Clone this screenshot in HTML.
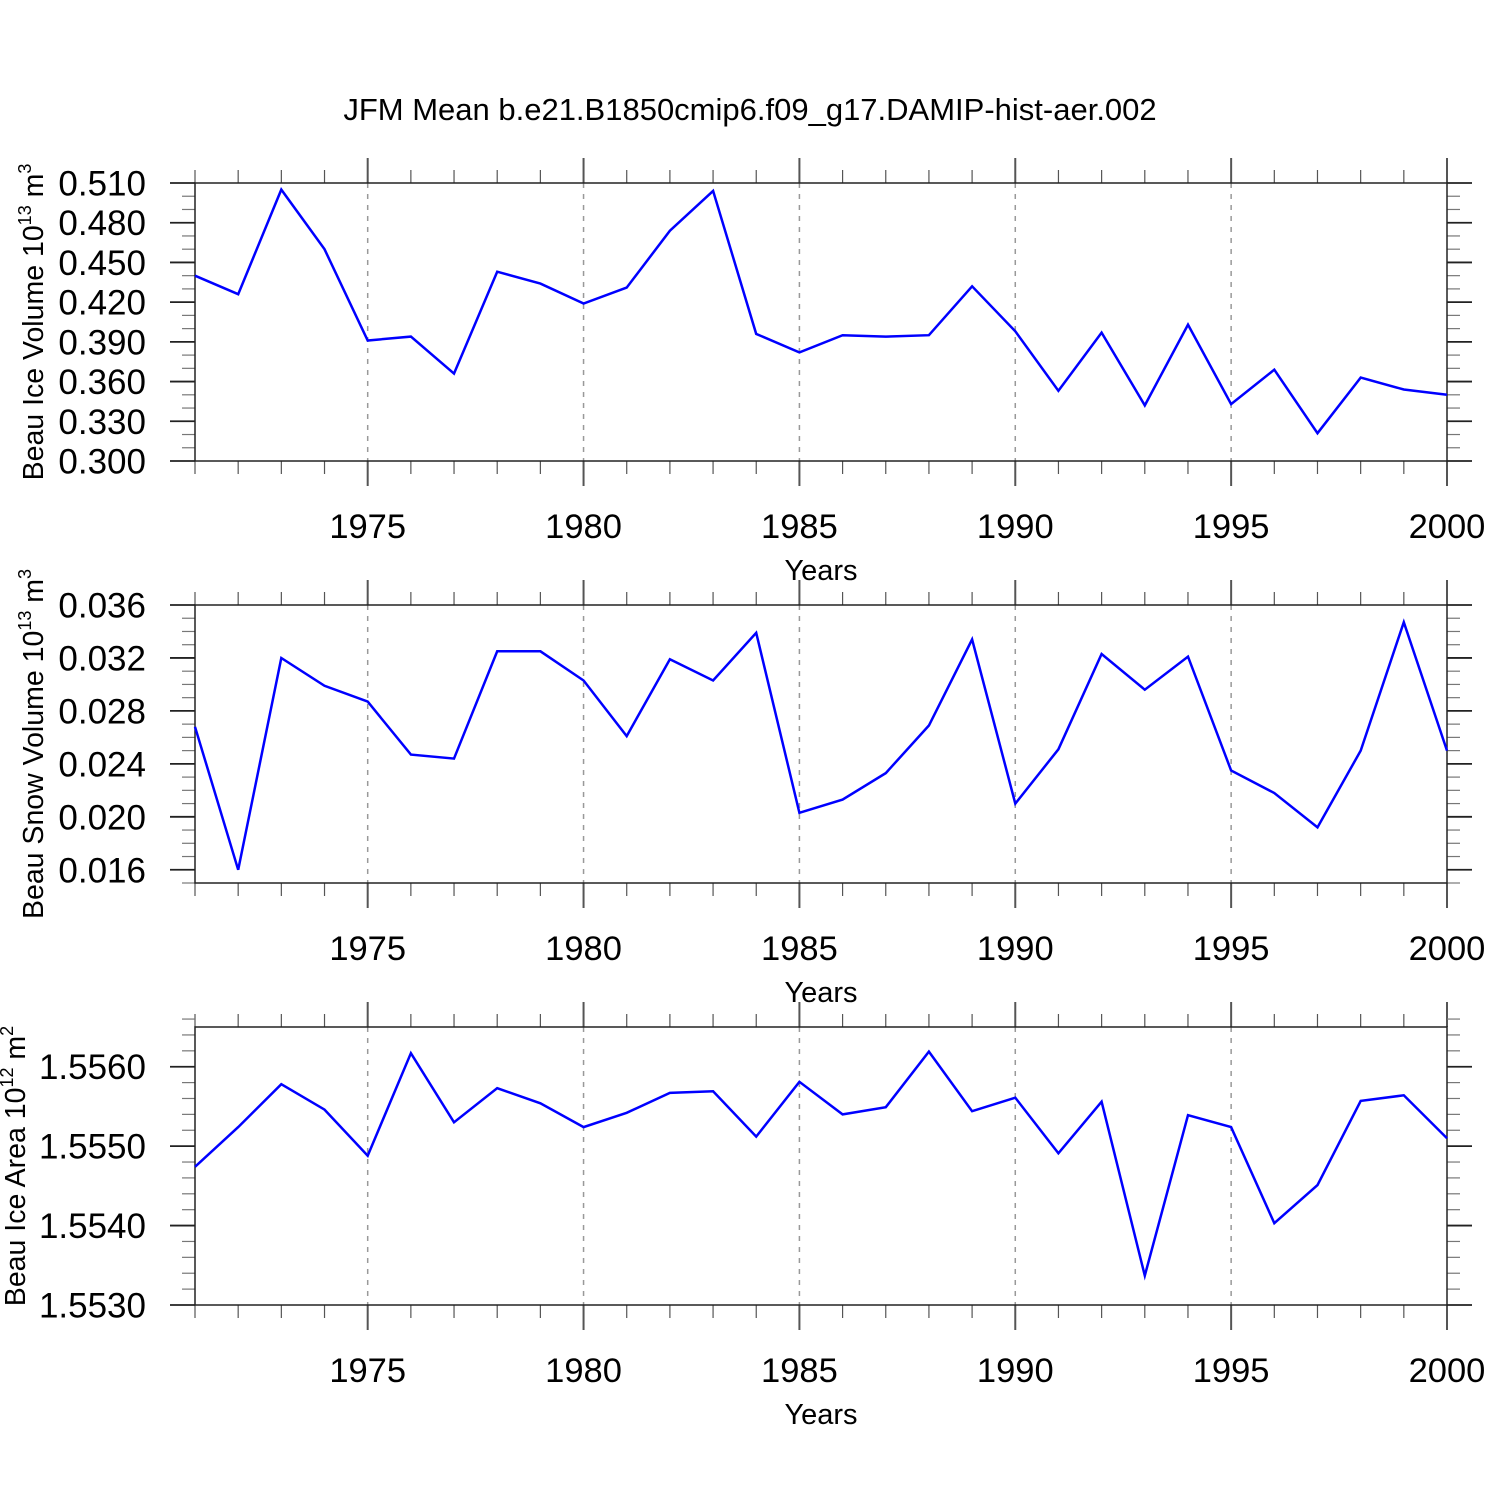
<!DOCTYPE html>
<html><head><meta charset="utf-8"><style>
body{margin:0;background:#fff}
svg{display:block;font-family:"Liberation Sans",sans-serif}
</style></head><body>
<svg id="chart" width="1500" height="1500" viewBox="0 0 1500 1500" xmlns="http://www.w3.org/2000/svg">
<rect width="1500" height="1500" fill="#fff"/>
<text x="750" y="120" font-size="31" text-anchor="middle">JFM Mean b.e21.B1850cmip6.f09_g17.DAMIP-hist-aer.002</text>
</svg>
<script>
const years = [1971,1972,1973,1974,1975,1976,1977,1978,1979,1980,1981,1982,1983,1984,1985,1986,1987,1988,1989,1990,1991,1992,1993,1994,1995,1996,1997,1998,1999,2000];
const iceVolume = [0.440,0.426,0.505,0.460,0.391,0.394,0.366,0.443,0.434,0.419,0.431,0.474,0.504,0.396,0.382,0.395,0.394,0.395,0.432,0.398,0.353,0.397,0.342,0.403,0.343,0.369,0.321,0.363,0.354,0.350];
const snowVolume = [0.0268,0.0160,0.0320,0.0299,0.0287,0.0247,0.0244,0.0325,0.0325,0.0303,0.0261,0.0319,0.0303,0.0339,0.0203,0.0213,0.0233,0.0269,0.0334,0.0210,0.0251,0.0323,0.0296,0.0321,0.0235,0.0218,0.0192,0.0250,0.0347,0.0250];
const iceArea = [1.55474,1.55524,1.55578,1.55546,1.55488,1.55617,1.55530,1.55573,1.55554,1.55524,1.55542,1.55567,1.55569,1.55512,1.55581,1.55540,1.55549,1.55619,1.55544,1.55561,1.55491,1.55556,1.55337,1.55539,1.55524,1.55403,1.55451,1.55557,1.55564,1.55510];
const xTickLabels = [1975,1980,1985,1990,1995,2000];
const iceVolumeTicks = [0.300,0.330,0.360,0.390,0.420,0.450,0.480,0.510];
const snowVolumeTicks = [0.016,0.020,0.024,0.028,0.032,0.036];
const iceAreaTicks = [1.5530,1.5540,1.5550,1.5560];

const NS="http://www.w3.org/2000/svg";
const svg=document.getElementById('chart');
function mk(tag,attrs,parent){const e=document.createElementNS(NS,tag);for(const k in attrs)e.setAttribute(k,attrs[k]);(parent||svg).appendChild(e);return e;}

const X0=195,X1=1447,H=278;
const xs=y=>X0+(y-1971)/(2000-1971)*(X1-X0);

const panels=[
 {name:'ice-volume',top:183,min:0.300,max:0.510,data:iceVolume,ticks:iceVolumeTicks,minor:0.01,dec:3,title:['Beau Ice Volume 10','13',' m','3'],tx:32},
 {name:'snow-volume',top:605,min:0.015,max:0.036,data:snowVolume,ticks:snowVolumeTicks,minor:0.001,dec:3,title:['Beau Snow Volume 10','13',' m','3'],tx:32},
 {name:'ice-area',top:1027,min:1.5530,max:1.5565,data:iceArea,ticks:iceAreaTicks,minor:0.0002,dec:4,title:['Beau Ice Area 10','12',' m','2'],tx:14}
];

panels.forEach(p=>{
 const g=mk('g',{});
 
 
 const B=p.top+H;
 const ys=v=>B-(v-p.min)/(p.max-p.min)*H;
 xTickLabels.forEach(yr=>{if(yr<2000){const l=mk('line',{x1:xs(yr),x2:xs(yr),y1:p.top,y2:B,stroke:'#999','stroke-width':1.5,'stroke-dasharray':'5,6'},g);
  
  }});
 years.forEach(yr=>{const major=yr%5===0;const len=major?25:13;const x=xs(yr);
  mk('line',{x1:x,x2:x,y1:p.top,y2:p.top-len,stroke:'#555','stroke-width':major?2:1.2},g);
  mk('line',{x1:x,x2:x,y1:B,y2:B+len,stroke:'#555','stroke-width':major?2:1.2},g);});
 const n=Math.round((p.max-p.min)/p.minor);
 for(let i=0;i<=n;i++){const v=p.min+i*p.minor;const y=ys(v);
  const major=p.ticks.some(t=>Math.abs(t-v)<p.minor/10);const len=major?25:13;
  mk('line',{x1:X0,x2:X0-len,y1:y,y2:y,stroke:major?'#222':'#777','stroke-width':major?1.8:1.2},g);
  mk('line',{x1:X1,x2:X1+len,y1:y,y2:y,stroke:major?'#222':'#777','stroke-width':major?1.8:1.2},g);}
 const f=mk('rect',{x:X0,y:p.top,width:X1-X0,height:H,fill:'none',stroke:'#222','stroke-width':1.5},g);
 
 
 p.ticks.forEach(t=>{const tx=mk('text',{x:146,y:ys(t)+12.5,'font-size':35,'text-anchor':'end'},g);tx.textContent=t.toFixed(p.dec);
  
  });
 xTickLabels.forEach(yr=>{const tx=mk('text',{x:xs(yr),y:B+77,'font-size':34.5,'text-anchor':'middle'},g);tx.textContent=yr;
  
  });
 const xt=mk('text',{x:821,y:B+119,'font-size':29,'text-anchor':'middle'},g);xt.textContent='Years';
 
 
 const yt=mk('text',{x:0,y:0,'font-size':28.5,'text-anchor':'middle',transform:`translate(${p.tx+11},${p.top+H/2}) rotate(-90)`},g);
 
 
 const s1=mk('tspan',{},yt);s1.textContent=p.title[0];
 const s2=mk('tspan',{'font-size':18,dy:-12},yt);s2.textContent=p.title[1];
 const s3=mk('tspan',{dy:12},yt);s3.textContent=p.title[2];
 const s4=mk('tspan',{'font-size':18,dy:-12},yt);s4.textContent=p.title[3];
 const pts=p.data.map((v,i)=>xs(years[i]).toFixed(1)+','+ys(v).toFixed(1)).join(' ');
 const pl=mk('polyline',{points:pts,fill:'none',stroke:'#0000ff','stroke-width':2.5,'stroke-linejoin':'miter'},g);
 
 
});
</script>
</body></html>
